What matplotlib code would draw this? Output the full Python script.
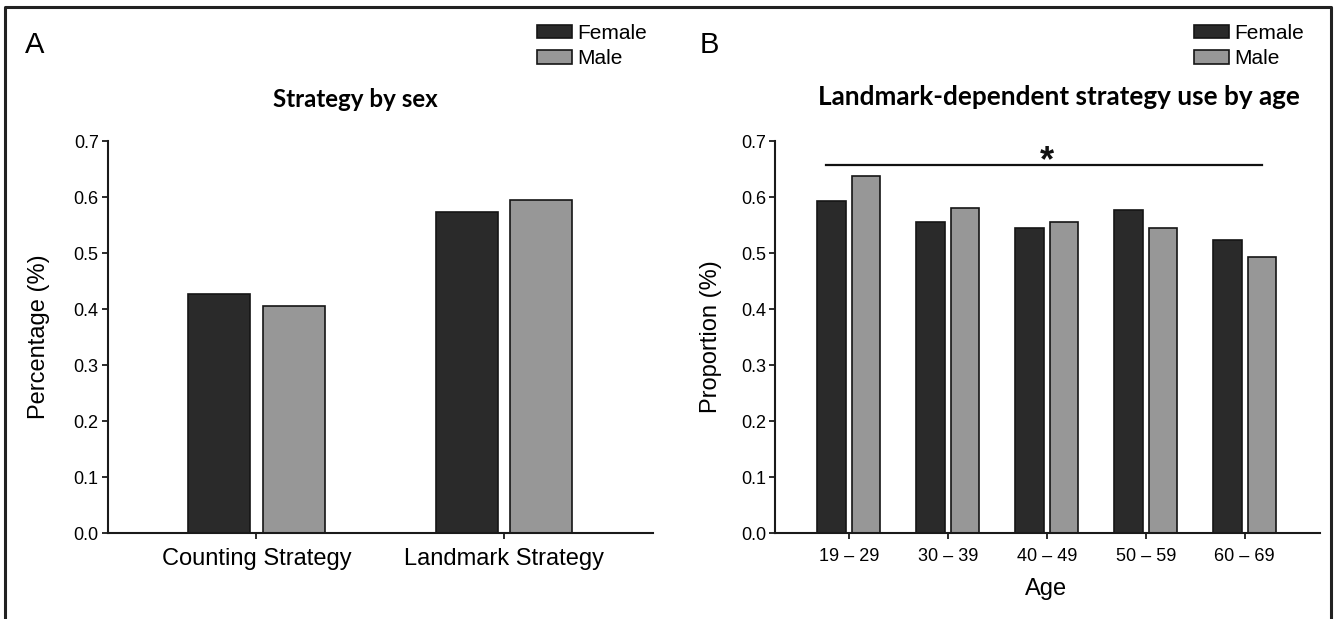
import matplotlib
matplotlib.use('Agg')
import matplotlib.pyplot as plt
from matplotlib.lines import Line2D
from matplotlib.patches import Patch
import numpy as np

# ---------------- data ----------------
strategies = ['Counting Strategy', 'Landmark Strategy']
strategy_female = [0.427, 0.574]
strategy_male = [0.405, 0.595]

age_groups = ['19 – 29', '30 – 39', '40 – 49', '50 – 59', '60 – 69']
age_female = [0.592, 0.555, 0.544, 0.576, 0.523]
age_male = [0.637, 0.580, 0.555, 0.544, 0.492]

series_names = ['Female', 'Male']
yticks = [0.0, 0.1, 0.2, 0.3, 0.4, 0.5, 0.6, 0.7]

# ---------------- style ----------------
W, H = 1334, 619
DARK = '#2a2a2a'
GRAY = '#979797'
EDGE = '#151515'
plt.rcParams['font.family'] = ['Liberation Sans', 'DejaVu Sans']

fig = plt.figure(figsize=(W / 100, H / 100), dpi=100)


def fx(px):
    return px / W


def fy(py):
    return 1 - py / H


axA = fig.add_axes([fx(107.7), fy(533), (653 - 107.7) / W, (533 - 141) / H])
axB = fig.add_axes([fx(775.5), fy(533), (1320 - 775.5) / W, (533 - 141) / H])


def style_axes(ax, xlabelsize):
    for s in ['top', 'right']:
        ax.spines[s].set_visible(False)
    for s in ['left', 'bottom']:
        ax.spines[s].set_linewidth(1.5)
        ax.spines[s].set_color('#1a1a1a')
    ax.set_ylim(0, 0.7)
    ax.set_yticks(yticks)
    ax.set_yticklabels([f'{v:.1f}' for v in yticks])
    ax.tick_params(axis='y', direction='out', length=4.5, width=1.3,
                   labelsize=13, pad=2, color='#1a1a1a')
    ax.tick_params(axis='x', direction='out', length=4.5, width=1.3,
                   labelsize=xlabelsize, pad=6, color='#1a1a1a')


# Panel A
xa = np.arange(len(strategies))
axA.bar(xa - 0.15, strategy_female, width=0.25, color=DARK, edgecolor=EDGE, linewidth=1.2)
axA.bar(xa + 0.15, strategy_male, width=0.25, color=GRAY, edgecolor=EDGE, linewidth=1.2)
axA.set_xlim(-0.6, 1.6)
axA.set_xticks(xa)
axA.set_xticklabels(strategies)
style_axes(axA, 17)

# Panel B
xb = np.arange(len(age_groups))
axB.bar(xb - 0.175, age_female, width=0.29, color=DARK, edgecolor=EDGE, linewidth=1.2)
axB.bar(xb + 0.175, age_male, width=0.29, color=GRAY, edgecolor=EDGE, linewidth=1.2)
axB.set_xlim(-0.74, 4.76)
axB.set_xticks(xb)
axB.set_xticklabels(age_groups)
style_axes(axB, 13)

# significance bar
axB.plot([-0.23, 4.17], [0.658, 0.658], color='#111111', lw=1.6, clip_on=False)
axB.text(2.0, 0.646, '*', ha='center', va='baseline', fontsize=26,
         fontweight='bold', color='#111111')

# axis labels
fig.text(fx(28), fy(337), 'Percentage (%)', rotation=90, ha='left', va='center', fontsize=17)
fig.text(fx(700), fy(337), 'Proportion (%)', rotation=90, ha='left', va='center', fontsize=17)
fig.text(fx(1046), fy(595), 'Age', ha='center', va='baseline', fontsize=17)

# panel letters
fig.text(fx(25), fy(53), 'A', ha='left', va='baseline', fontsize=21)
fig.text(fx(700), fy(53), 'B', ha='left', va='baseline', fontsize=21)

# titles
tA = fig.text(fx(355), fy(107), 'Strategy by sex', ha='center', va='baseline',
              fontsize=15, fontweight='bold', family=['Lato', 'DejaVu Sans'])
tB = fig.text(fx(1059), fy(105), 'Landmark-dependent strategy use by age', ha='center',
              va='baseline', fontsize=15, fontweight='bold', family=['Lato', 'DejaVu Sans'])

fig.canvas.draw()
r = fig.canvas.get_renderer()
for t, target in [(tA, 166), (tB, 482)]:
    w = t.get_window_extent(r).width
    t.set_fontsize(t.get_fontsize() * target / w)

# legends
handles = [Patch(facecolor=DARK, edgecolor=EDGE, linewidth=1.2),
           Patch(facecolor=GRAY, edgecolor=EDGE, linewidth=1.2)]
for ax, x0 in [(axA, 537), (axB, 1194)]:
    ax.legend(handles, series_names, loc='upper left',
              bbox_to_anchor=(fx(x0), fy(24)), bbox_transform=fig.transFigure,
              frameon=False, fontsize=15, handlelength=1.7, handleheight=0.6,
              handletextpad=0.25, labelspacing=0.3, borderpad=0, borderaxespad=0)

# outer frame (left, top, right)
fig.add_artist(Line2D([fx(5), fx(5), fx(1331), fx(1331)],
                      [0, fy(7), fy(7), 0], color='#222222', lw=2.2,
                      transform=fig.transFigure))

fig.savefig('out.png', dpi=100)
